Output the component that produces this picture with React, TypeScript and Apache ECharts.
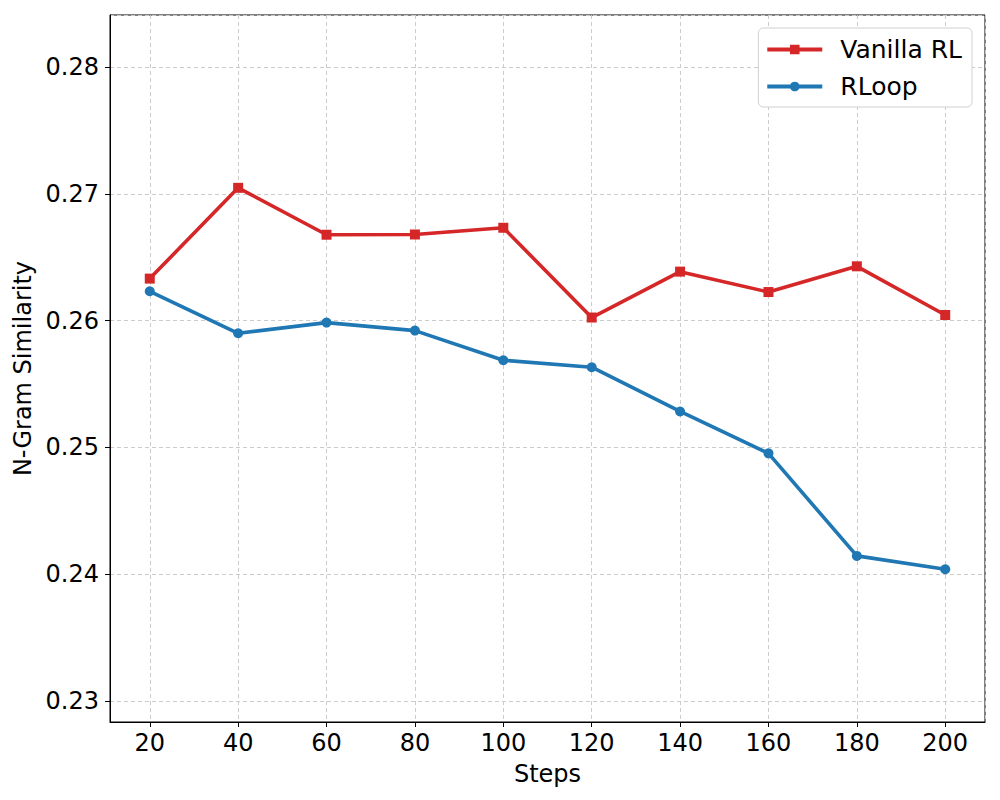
import React, { useEffect, useRef } from "react";
import * as echarts from "echarts";

const steps = [20, 40, 60, 80, 100, 120, 140, 160, 180, 200];
const vanillaRL = [0.26331, 0.27047, 0.26677, 0.26679, 0.26732, 0.26024, 0.26386, 0.26225, 0.26428, 0.26044];
const rloop = [0.26231, 0.259, 0.25984, 0.25921, 0.25687, 0.25632, 0.25283, 0.24953, 0.24144, 0.24039];
const seriesNames = ["Vanilla RL", "RLoop"];
const xLabel = "Steps";
const yLabel = "N-Gram Similarity";

const FONT = "DejaVu Sans";

export default function App() {
  const ref = useRef<HTMLDivElement>(null);
  useEffect(() => {
    if (!ref.current) return;
    const chart = echarts.init(ref.current, undefined, { renderer: "svg" });
    const gridLine = { show: true, lineStyle: { color: "#cccccc", type: [4, 3], width: 1 } };
    chart.setOption({
      animation: false,
      backgroundColor: "#ffffff",
      grid: {
        left: 110,
        right: 15,
        top: 15,
        bottom: 78,
        show: true,
        borderColor: "#000000",
        borderWidth: 1,
        backgroundColor: "transparent",
      },
      legend: {
        right: 28,
        top: 28,
        orient: "vertical",
        itemWidth: 55,
        itemHeight: 12,
        itemGap: 12,
        padding: [9, 10, 8, 7],
        backgroundColor: "#ffffff",
        borderColor: "#d0d0d0",
        borderWidth: 1,
        borderRadius: 5,
        lineStyle: { width: 3.8 },
        textStyle: { fontFamily: FONT, fontSize: 25, color: "#000000", padding: [0, 0, 0, 13] },
        data: seriesNames,
      },
      xAxis: {
        type: "value",
        min: 11,
        max: 209,
        splitNumber: 10,
        name: xLabel,
        nameLocation: "middle",
        nameGap: 40,
        nameTextStyle: { fontFamily: FONT, fontSize: 24, color: "#000000" },
        axisLine: { show: true, onZero: false, lineStyle: { color: "#000000", width: 1 } },
        axisTick: { show: true, length: 5, lineStyle: { color: "#000000" } },
        axisLabel: {
          fontFamily: FONT,
          fontSize: 24,
          color: "#000000",
          margin: 9,
          showMinLabel: false,
          showMaxLabel: false,
          formatter: (v: number) => (Math.abs(v / 20 - Math.round(v / 20)) < 1e-6 ? String(v) : ""),
        },
        splitLine: gridLine,
      },
      yAxis: {
        type: "value",
        min: 0.22834,
        max: 0.2841,
        splitNumber: 5,
        name: yLabel,
        nameLocation: "middle",
        nameGap: 75,
        nameTextStyle: { fontFamily: FONT, fontSize: 24, color: "#000000" },
        axisLine: { show: true, onZero: false, lineStyle: { color: "#000000", width: 1 } },
        axisTick: { show: true, length: 5, lineStyle: { color: "#000000" } },
        axisLabel: {
          fontFamily: FONT,
          fontSize: 24,
          color: "#000000",
          margin: 11,
          showMinLabel: false,
          showMaxLabel: false,
          formatter: (v: number) => {
            const r = Math.round(v * 100);
            return Math.abs(v * 100 - r) < 1e-6 ? (r / 100).toFixed(2) : "";
          },
        },
        splitLine: gridLine,
      },
      series: [
        {
          name: seriesNames[0],
          type: "line",
          data: steps.map((s, i) => [s, vanillaRL[i]]),
          symbol: "rect",
          symbolSize: 10,
          showAllSymbol: true,
          itemStyle: { color: "#d62728" },
          lineStyle: { color: "#d62728", width: 3.6 },
          z: 3,
        },
        {
          name: seriesNames[1],
          type: "line",
          data: steps.map((s, i) => [s, rloop[i]]),
          symbol: "circle",
          symbolSize: 10,
          showAllSymbol: true,
          itemStyle: { color: "#1f77b4" },
          lineStyle: { color: "#1f77b4", width: 3.6 },
          z: 3,
        },
      ],
    });
    return () => chart.dispose();
  }, []);
  return <div ref={ref} style={{ width: 1000, height: 800, position: "absolute", left: 0, top: 0 }} />;
}
